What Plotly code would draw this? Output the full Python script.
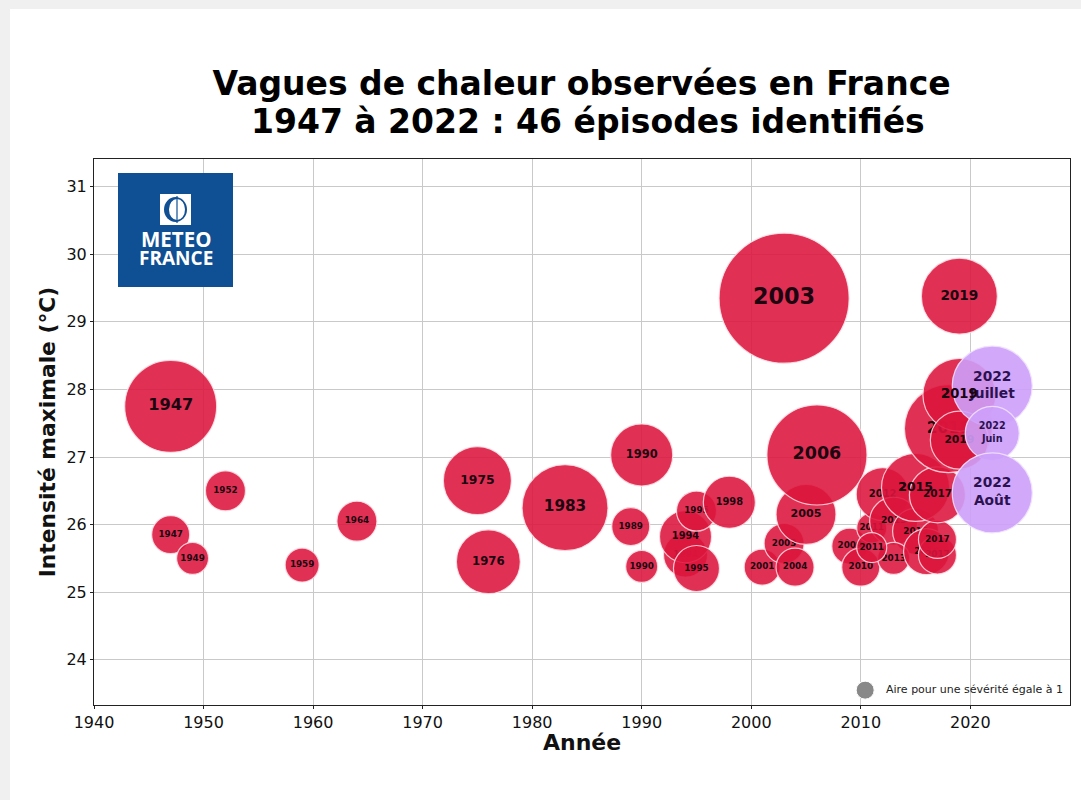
import math
import plotly.graph_objects as go

# ---- data ----
years = [1947, 1947, 1949, 1952, 1959, 1964, 1975, 1976, 1983, 1989, 1990, 1990, 1994, 1994, 1995, 1995, 1998,
         2001, 2003, 2003, 2004, 2005, 2006, 2009, 2010, 2011, 2012, 2013, 2015, 2013, 2011, 2015, 2016, 2017,
         2017, 2017, 2018, 2019, 2019, 2019]
intensity = [27.75, 25.85, 25.5, 26.5, 25.4, 26.05, 26.65, 25.45, 26.25, 25.97, 27.03, 25.38, 25.55, 25.82, 26.2,
             25.35, 26.33, 25.37, 29.35, 25.72, 25.37, 26.15, 27.03, 25.68, 25.37, 25.95, 26.45, 26.05, 25.9,
             25.5, 25.66, 26.55, 25.6, 25.55, 25.78, 26.44, 27.42, 29.38, 27.92, 27.25]
severity = [26.1, 4.46, 3.16, 4.94, 3.57, 4.94, 14.3, 12.6, 22.8, 4.46, 11.9, 3.16, 5.98, 8.35, 4.94,
            6.53, 8.35, 4.0, 52.2, 4.94, 4.46, 11.1, 30.9, 4.0, 4.46, 2.78, 8.67, 7.1, 6.5,
            3.16, 2.78, 14.3, 6.5, 4.46, 4.46, 9.7, 23.9, 17.8, 16.4, 10.4]
# episodes whose year label stays readable over the neighbouring bubbles
labels_on_top = [(2015, 26.55, 14.3), (2019, 27.92, 16.4)]

years_2022 = [2022, 2022, 2022]
intensity_2022 = [28.05, 27.35, 26.47]
severity_2022 = [19.75, 9.0, 19.75]
labels_2022 = ["2022<br>Juillet", "2022<br>Juin", "2022<br>Août"]

legend_year = [2010.4]
legend_intensity = [23.55]
legend_severity = [1]
legend_label = "Aire pour une sévérité égale à 1"

title_line_1 = "Vagues de chaleur observées en France"
title_line_2 = "1947 à 2022 : 46 épisodes identifiés"
x_title = "Année"
y_title = "Intensité maximale (°C)"
x_ticks = [1940, 1950, 1960, 1970, 1980, 1990, 2000, 2010, 2020]
y_ticks = [24, 25, 26, 27, 28, 29, 30, 31]

# ---- layout constants ----
W, H = 1081, 800
L, R, T, B = 94, 1070, 159, 705
FONT = "DejaVu Sans"
REF = 2 / 18 ** 2
TEXT_RED = "#1c0410"


def fx(px):
    return (px - L) / (R - L)


def fy(py):
    return (B - py) / (B - T)


def label_size(sev):
    return max(8.8, 1.5 + 0.16 * 18 * math.sqrt(sev))


fig = go.Figure()


def bubble(x, y, s, label, fill, line, txt, tsize):
    fig.add_trace(go.Scatter(
        x=[x], y=[y], mode="markers+text", text=[label], textposition="middle center",
        textfont=dict(family=FONT, size=tsize, color=txt, weight="bold"),
        marker=dict(size=[s], sizemode="area", sizeref=REF, sizemin=1, color=fill, opacity=1,
                    line=dict(color=line, width=1.2)),
        showlegend=False, cliponaxis=False,
    ))


for x, y, s in zip(years, intensity, severity):
    bubble(x, y, s, str(x), "rgba(220,20,60,0.88)", "rgba(255,225,230,0.85)", TEXT_RED, label_size(s))
for x, y, s, t in zip(years_2022, intensity_2022, severity_2022, labels_2022):
    bubble(x, y, s, t, "rgba(205,160,250,0.9)", "rgba(240,225,255,0.9)", "#2b1150", label_size(s) - 0.5)
for x, y, s in labels_on_top:
    fig.add_trace(go.Scatter(
        x=[x], y=[y], mode="text", text=[str(x)], textposition="middle center",
        textfont=dict(family=FONT, size=label_size(s), color=TEXT_RED, weight="bold"),
        showlegend=False,
    ))

fig.add_trace(go.Scatter(
    x=legend_year, y=legend_intensity, mode="markers",
    marker=dict(size=legend_severity, sizemode="area", sizeref=REF, color="#888888", opacity=1),
    showlegend=False,
))

BLUE = "#0f4f94"
shapes = [
    dict(type="rect", xref="paper", yref="paper", x0=fx(10), x1=fx(W), y0=fy(9), y1=fy(H), layer="below",
         fillcolor="white", line_width=0),
    dict(type="rect", xref="paper", yref="paper", x0=fx(118), x1=fx(233), y0=fy(173), y1=fy(287),
         fillcolor=BLUE, line_width=0),
    dict(type="rect", xref="paper", yref="paper", x0=fx(160), x1=fx(191), y0=fy(194), y1=fy(225),
         fillcolor="white", line_width=0),
    dict(type="circle", xref="paper", yref="paper", x0=fx(164), x1=fx(187), y0=fy(197), y1=fy(222),
         fillcolor=BLUE, line_width=0),
    dict(type="circle", xref="paper", yref="paper", x0=fx(169), x1=fx(185), y0=fy(199), y1=fy(220),
         fillcolor="white", line_width=0),
    dict(type="line", xref="paper", yref="paper", x0=fx(177), x1=fx(177), y0=fy(196), y1=fy(223),
         line=dict(color=BLUE, width=1.2)),
]

annotations = [
    dict(xref="paper", yref="paper", x=fx(587.5), y=fy(121), text=title_line_2, showarrow=False,
         xanchor="center", yanchor="middle",
         font=dict(family=FONT, size=33, color="black", weight="bold")),
    dict(xref="paper", yref="paper", x=fx(176), y=fy(239), text="METEO", showarrow=False,
         xanchor="center", yanchor="middle",
         font=dict(family="Open Sans", size=20.5, color="white", weight="bold")),
    dict(xref="paper", yref="paper", x=fx(176), y=fy(258), text="FRANCE", showarrow=False,
         xanchor="center", yanchor="middle",
         font=dict(family="Open Sans", size=19, color="white", weight="bold")),
    dict(xref="paper", yref="paper", x=fx(884), y=fy(689), xanchor="left", yanchor="middle",
         text=legend_label, showarrow=False,
         font=dict(family=FONT, size=11, color="#222222")),
    dict(xref="paper", yref="paper", x=fx(581.5), y=fy(742), text=x_title, showarrow=False,
         xanchor="center", yanchor="middle",
         font=dict(family=FONT, size=22, color="#111111", weight="bold")),
]

axis = dict(showgrid=True, gridcolor="#c9c9c9", gridwidth=1, zeroline=False, showline=True, linecolor="#222222",
            linewidth=1, mirror=True, ticks="outside", ticklen=3, tickcolor="#222222",
            tickfont=dict(family=FONT, size=16, color="#111111"))

fig.update_layout(
    width=W, height=H, autosize=False,
    margin=dict(l=L, r=W - R, t=T, b=H - B, pad=0),
    paper_bgcolor="#f0f0f0", plot_bgcolor="white",
    title=dict(text=title_line_1, x=fx(581.5), xref="paper", xanchor="center", y=1 - 83 / H, yanchor="middle",
               font=dict(family=FONT, size=33, color="black", weight="bold")),
    xaxis=dict(axis, range=[1940, 2029.1], tickvals=x_ticks),
    yaxis=dict(axis, range=[23.33, 31.41], tickvals=y_ticks,
               title=dict(text=y_title, standoff=4,
                          font=dict(family=FONT, size=21.8, color="#111111", weight="bold"))),
    shapes=shapes, annotations=annotations,
)

fig.write_html("out.html", config=dict(displayModeBar=False),
               post_script="document.body.style.margin='0';document.body.style.overflow='hidden';")
